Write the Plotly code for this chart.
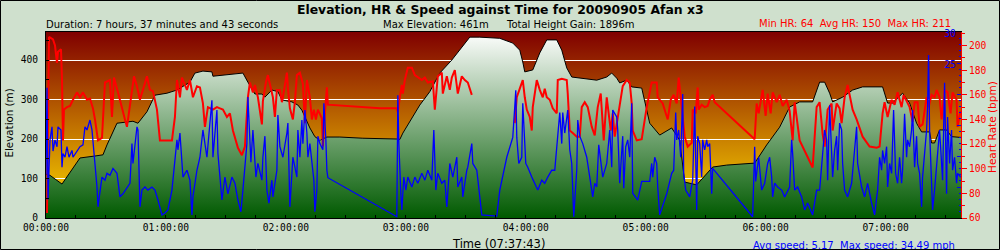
import base64
import pandas as pd
import plotly.graph_objects as go

# ---------------- data (time in minutes from start) ----------------
elev_t = [0, 2, 8, 17, 24.5, 28.5, 30.5, 35.5, 43.5, 46,
          50.5, 54.5, 60.5, 65.5, 72, 74.5, 78.5, 83, 83.5, 90.5,
          98.5, 101, 104.5, 108, 109.5, 113, 116, 118, 123, 126,
          128, 132, 134.5, 137, 140.5, 147, 158.5, 175.5, 177, 178.5,
          183, 187, 192, 197, 203, 207, 212, 217, 227, 233.5,
          237, 238.5, 239.5, 243.5, 247, 250.5, 255.5, 258, 260.5, 263,
          268.5, 275.5, 280.5, 283, 285.5, 287, 290.5, 293, 298, 302,
          307, 313, 317, 319.5, 325.5, 333.5, 340.5, 354.5, 360.5, 367,
          372, 377, 383.5, 387, 389.5, 392, 393.5, 398.5, 403.5, 408.5,
          418.5, 421, 423.5, 428.5, 432, 435.5, 438, 442, 443, 444.5,
          447, 450.5, 453, 457.7]
elev_m = [111, 108, 86, 152, 157, 160, 185, 240, 245, 240,
          269, 311, 316, 324, 344, 367, 372, 370, 359, 362,
          367, 344, 314, 314, 306, 324, 320, 299, 294, 286,
          273, 228, 206, 197, 205, 205, 202, 200, 199, 215,
          253, 286, 320, 367, 400, 425, 458, 458, 455, 443,
          425, 395, 370, 375, 418, 451, 451, 425, 380, 357,
          354, 349, 357, 367, 354, 342, 349, 332, 329, 240,
          210, 228, 197, 91, 84, 129, 134, 139, 185, 230,
          281, 294, 294, 344, 344, 316, 294, 306, 324, 332,
          332, 291, 291, 316, 291, 240, 218, 218, 190, 190,
          223, 223, 206, 204]

hr_t = [0.5, 1.5, 3.5, 4.5, 5.5, 6, 7.5, 8, 8.5, 9,
        10.5, 12, 13.5, 15.5, 17, 18.5, 20.5, 22, 23.5, 24.5,
        26, 28, 29.5, 32, 33, 34, 36, 38, 39.5, 40.5,
        42, 44, 45.5, 47, 50.5, 52, 53.5, 55.5, 57, 60.5,
        63, 64.5, 65.5, 67, 68, 70.5, 72, 73.5, 75.5, 77,
        78.5, 79.5, 81, 83.5, 85.5, 87, 88.5, 90.5, 92, 93.5,
        96, 98, 99.5, 101, 102, 103.5, 104.5, 106, 107, 108,
        108.5, 110, 111, 112.5, 113.5, 114.5, 115.5, 117, 118, 118.5,
        120.5, 121, 122, 123.5, 124.5, 125.5, 127, 128.5, 129.5, 130.5,
        132, 133, 134, 135, 136, 138, 138.5, 139.5, 140.5, 141,
        150.5, 158.5, 167, 175.5, 176, 177, 178, 178.5, 179.5, 181,
        183, 184.5, 186, 188, 189.5, 191, 193.5, 194.5, 196, 198,
        198.5, 200.5, 202, 203, 204.5, 206, 208, 209.5, 211, 213,
        224, 234.5, 235.5, 237, 238.5, 239.5, 240.5, 242, 243, 243.5,
        245.5, 247, 248.5, 249.5, 250.5, 252, 253.5, 255.5, 256, 258,
        260.5, 261, 262, 263.5, 265.5, 267, 268, 269.5, 271, 273,
        274.5, 276, 277.5, 279, 280.5, 282.5, 283.5, 284.5, 286.5, 288.5,
        290.5, 292, 293, 293.5, 295.5, 298, 300.5, 303, 305.5, 306,
        308.5, 311, 312.5, 314, 315.5, 316.5, 318, 319.5, 321, 323,
        323.5, 325, 326, 326.5, 328, 329.5, 331, 332, 333.5, 334.5,
        354.5, 355.5, 356.5, 358.5, 360, 361, 362.5, 363.5, 365.5, 367,
        368.5, 370.5, 372, 373.5, 374.5, 377, 383.5, 384.5, 385.5, 387,
        388.5, 389.5, 391, 393, 393.5, 395.5, 397, 398, 399.5, 401,
        402, 403.5, 405.5, 407, 408.5, 412, 415.5, 417, 418.5, 419.5,
        421, 423, 424.5, 426, 428, 429, 430.5, 432, 433.5, 434.5,
        436, 437, 438.5, 440.5, 441.5, 443, 444.5, 445.5, 447, 448,
        449.5, 451, 452.5, 453.5, 455.5, 456, 457.5]
hr_bpm = [64, 207, 205, 200, 186, 195, 197, 172, 123, 148,
          150, 151, 156, 162, 158, 162, 156, 157, 149, 140,
          123, 125, 170, 172, 142, 174, 162, 148, 140, 134,
          153, 175, 167, 156, 175, 164, 163, 148, 123, 123,
          123, 142, 172, 158, 174, 164, 172, 158, 167, 166,
          153, 134, 150, 148, 150, 149, 148, 142, 145, 131,
          117, 111, 118, 158, 170, 162, 168, 158, 147, 136,
          155, 170, 176, 166, 158, 142, 164, 164, 154, 158,
          178, 166, 149, 140, 154, 176, 178, 169, 137, 172,
          158, 140, 148, 140, 148, 141, 118, 145, 166, 152,
          151, 150, 149, 149, 146, 158, 168, 161, 172, 182,
          182, 176, 174, 172, 174, 170, 171, 148, 175, 178,
          161, 175, 164, 174, 180, 161, 175, 172, 170, 160,
          None, 137, 158, 165, 172, 158, 148, 142, 131, 150,
          172, 164, 158, 165, 158, 156, 149, 145, 172, 173,
          172, 161, 131, 129, 126, 126, 150, 154, 150, 134,
          127, 150, 161, 123, 158, 131, 145, 126, 145, 167,
          172, 170, 153, 131, 123, 124, 150, 170, 170, 158,
          153, 140, 156, 160, 153, 174, 150, 126, 118, 121,
          148, 145, 166, 148, 152, 150, 151, 156, 160, 154,
          124, 153, 145, 164, 143, 161, 145, 162, 154, 160,
          151, 156, 147, 123, 154, 123, 101, 131, 150, 154,
          128, 118, 148, 153, 131, 153, 149, 137, 158, 168,
          161, 148, 140, 133, 126, 118, 117, 118, 145, 154,
          142, 156, 152, 162, 150, 160, 155, 150, 138, 154,
          154, 134, 136, 158, 150, 160, 158, 164, 158, 140,
          164, 162, 145, 162, 156, 134, 147]

spd_t = [0, 0.5, 1, 2, 3, 3.5, 4.5, 5.5, 6, 7.5,
         8, 8.5, 9.5, 10.5, 11.5, 13, 13.5, 15.5, 17, 18.5,
         19.5, 20.5, 22, 23, 23.5, 24.5, 25.5, 26, 27, 28,
         29.5, 30.5, 32, 33.5, 35.5, 37, 38.5, 40.5, 42, 43,
         43.5, 45.5, 46, 47, 48, 49.5, 51, 53, 54.5, 56,
         58, 59.5, 61, 63, 64.5, 65.5, 66, 67, 68.5, 70.5,
         72, 73, 73.5, 75.5, 77, 78.5, 80.5, 83, 83.5, 85.5,
         86, 88, 89.5, 91, 93, 94.5, 96, 97.5, 98.5, 100.5,
         101, 102.5, 103.5, 105, 106, 108, 108.5, 109.5, 110.5, 111.5,
         113, 113.5, 115.5, 116, 117, 118.5, 120.5, 121, 122, 123,
         123.5, 125.5, 126, 127, 128, 128.5, 129.5, 130.5, 131, 132,
         133, 134, 134.5, 135.5, 136, 137, 138.5, 139, 140, 140.5,
         141, 175.5, 176, 176.5, 177.5, 178, 179, 180, 181, 183,
         184.5, 186, 188, 189.5, 191, 193, 194, 195, 196, 198,
         199.5, 200.5, 202, 203.5, 205.5, 206, 208, 208.5, 210.5, 211,
         213, 213.5, 215.5, 217, 218, 225.5, 227, 230.5, 233.5, 234.5,
         235, 235.5, 236.5, 238, 238.5, 240, 241, 243, 244.5, 246,
         248, 249.5, 251, 253, 254.5, 256, 257, 258, 258.5, 259.5,
         261, 262, 263, 264, 265.5, 266, 267, 268.5, 270.5, 272,
         273.5, 274.5, 275.5, 276.5, 277.5, 278.5, 280.5, 282, 283, 283.5,
         285.5, 286, 287, 288.5, 289, 290, 291, 292, 293, 293.5,
         296, 298, 302, 303, 303.5, 304.5, 305.5, 306, 307, 310.5,
         313, 314, 315, 315.5, 316.5, 317.5, 318.5, 319, 320, 322,
         323.5, 324.5, 325.5, 326, 327, 328, 328.5, 329.5, 330.5, 331,
         332, 333, 333.5, 353.5, 354.5, 355, 355.5, 356.5, 358, 359.5,
         361, 362, 363, 363.5, 364.5, 366, 368, 369.5, 372, 373,
         373.5, 374.5, 376, 378, 379.5, 381, 383.5, 385.5, 387, 388.5,
         389.5, 390.5, 391, 392, 393, 393.5, 394.5, 395.5, 396, 397,
         398, 398.5, 399.5, 401, 403, 404.5, 405.5, 406, 408, 409.5,
         411, 413, 414.5, 416, 417, 418, 418.5, 419.5, 420.5, 421,
         422, 423, 424, 425, 426, 427, 428, 428.5, 429.5, 430.5,
         431, 432, 433, 433.5, 434.5, 435.5, 436, 437, 438, 438.5,
         439.5, 440.5, 441, 441.5, 442, 443, 443.5, 444.5, 445.5, 446,
         447, 448, 448.5, 449.5, 450.5, 451, 452, 453, 453.5, 454.5,
         455.5, 456, 457.5]
spd_mph = [7, 21, 3, 12.6, 14.7, 10.8, 12.6, 11.5, 14.7, 14.2,
           8.2, 10.4, 9.8, 11.5, 9.8, 10.9, 9.8, 10.9, 11.5, 11.8,
           14.7, 14.2, 15.8, 14.2, 12.6, 9.4, 5, 1.8, 3.9, 6.6,
           6.1, 7.2, 6.9, 8, 7.2, 3.4, 3.9, 5, 5.6, 12,
           8.8, 14.7, 14.2, 1.8, 4.5, 5, 4.5, 5, 4.5, 2.9,
           0.5, 0.8, 1.3, 4.5, 9.8, 12.6, 11, 13.7, 6.6, 7.7,
           6.1, 0.5, 3.4, 7.7, 9.8, 14.2, 9.8, 19, 9.8, 17.4,
           10.4, 2.9, 6.6, 3.9, 6.6, 5.6, 2.9, 1, 4.5, 12,
           19.5, 9, 14.2, 6.6, 8.8, 6.1, 9.8, 13.2, 4.5, 2.4,
           6.1, 3.4, 7.7, 16.6, 11.5, 9.8, 13.7, 15.3, 1.8, 6.1,
           9.8, 6.6, 14.2, 9.8, 15.8, 12, 17.4, 13.7, 9.8, 12,
           8.8, 6.1, 1, 4.5, 13.2, 12, 11, 18.5, 12.6, 7.7,
           6.5, 0.2, 19.8, 12, 3.9, 1.3, 6.6, 4.5, 6.6, 5,
           6.6, 5.6, 7.2, 6.1, 7.7, 6.1, 14.2, 4.5, 7.2, 5.6,
           6.1, 1.8, 8.8, 6.6, 9.8, 5, 6.6, 3.4, 7.7, 8.2,
           12, 8.8, 7.7, 3.9, 0.5, 0.3, 4.5, 9.8, 13, 18,
           20.6, 13, 8.8, 9.8, 18.5, 8.8, 8.2, 6.6, 5.6, 4.5,
           6.1, 5.6, 6.6, 7.7, 7.7, 14.2, 17, 12, 17, 13.7,
           17.4, 11, 8.8, 0.2, 7.7, 15.8, 13.2, 12, 9.8, 6.6,
           3.4, 5.6, 5, 11.8, 9.4, 6.6, 8.8, 14.2, 8.2, 17.4,
           16.3, 14.2, 5.6, 13.2, 4.8, 11.5, 12.6, 9.8, 18.5, 4,
           2.9, 5.9, 5.9, 8.8, 6.6, 9.8, 8.8, 5, 0.5, 3.9,
           7.2, 7.7, 17, 12.6, 14.2, 9.8, 20, 7.2, 4.5, 3.4,
           6.1, 18, 1.3, 13.2, 12, 6.6, 12.6, 11, 12.6, 11.5,
           12, 3.9, 8, 0.2, 11.5, 5.9, 7.2, 9.8, 4.5, 5.6,
           8.8, 9.8, 6.6, 3.4, 5.6, 5, 4.5, 3.4, 5, 12.6,
           10.4, 4.5, 5, 3.4, 1.3, 2.4, 0.5, 4.5, 4.5, 9.8,
           14.2, 12.6, 6.1, 18.2, 11.5, 6.6, 10.9, 13.2, 7.7, 15.3,
           14.2, 8.8, 4.5, 3.4, 5.6, 11.5, 14.7, 8.8, 5, 3.4,
           5.6, 2.4, 0.5, 4.5, 9.8, 7.7, 10.9, 8.8, 11.5, 5,
           8.8, 7.2, 17.4, 7.2, 5.6, 9.8, 5.6, 7.7, 16.8, 9.8,
           12.6, 11.5, 14.2, 17.4, 8.2, 13.2, 8.8, 7.2, 1.8, 6.6,
           9.8, 14.2, 18, 26.3, 14.2, 4.5, 1.3, 4.5, 8.8, 11.5,
           14.2, 8.8, 6.1, 21.8, 3.9, 16.3, 8.8, 14.2, 7.7, 9.8,
           5.6, 7.2, 6.6]

x_tick_format = "%H:%M:%S"
speed_ticks = [0, 5, 10, 15, 20, 25, 30]
speed_tick_text = ["", "", "", "", "", "25", "30"]

TITLE = "Elevation, HR & Speed against Time for 20090905 Afan x3"
DURATION = "Duration: 7 hours, 37 minutes and 43 seconds"
MAX_ELEV = "Max Elevation: 461m"
HEIGHT_GAIN = "Total Height Gain: 1896m"
HR_STATS = "Min HR: 64  Avg HR: 150  Max HR: 211"
SPEED_STATS = "Avg speed: 5.17  Max speed: 34.49 mph"
X_TITLE = "Time (07:37:43)"

# ---------------- layout constants ----------------
W, H = 1000, 250
ML, MR, MT, MB = 46, 39, 32, 32
PW, PH = W - ML - MR, H - MT - MB
ELEV_TOP = 471
HR_RANGE = [60, 211]
SPD_RANGE = [0, 30]
BG = "#cfe0cd"
MONO = "DejaVu Sans Mono"
SANS = "DejaVu Sans"

t0 = pd.Timestamp("2009-09-05 00:00:00")
t_end = t0 + pd.Timedelta(seconds=7 * 3600 + 37 * 60 + 43)


def to_time(mins):
    return [t0 + pd.Timedelta(minutes=m) for m in mins]


def px(x):
    return (x - ML) / PW


def py(y):
    return 1 - (y - MT) / PH


fig = go.Figure()
fig.add_trace(go.Scatter(
    x=to_time(elev_t), y=elev_m, mode="lines", yaxis="y",
    line=dict(color="black", width=1), fill="tozeroy",
    fillgradient=dict(type="vertical", colorscale=[[0, "#005a00"], [1, "#ffffff"]],
                      start=0, stop=ELEV_TOP),
    hoverinfo="skip"))
fig.add_trace(go.Scatter(
    x=to_time(hr_t), y=hr_bpm, mode="lines", yaxis="y2", connectgaps=False,
    line=dict(color="#ff0000", width=2)))
fig.add_trace(go.Scatter(
    x=to_time(spd_t), y=spd_mph, mode="lines", yaxis="y3",
    line=dict(color="#0000ff", width=1.3)))

svg = ('<svg xmlns="http://www.w3.org/2000/svg" width="10" height="100" viewBox="0 0 10 100" '
       'preserveAspectRatio="none"><defs><linearGradient id="g" x1="0" y1="0" x2="0" y2="1">'
       '<stop offset="0" stop-color="#800000"/><stop offset="1" stop-color="#ffdf00"/>'
       '</linearGradient></defs><rect x="0" y="0" width="10" height="100" fill="url(#g)"/></svg>')
svg_uri = "data:image/svg+xml;base64," + base64.b64encode(svg.encode()).decode()

fig.update_layout(
    width=W, height=H, margin=dict(l=ML, r=MR, t=MT, b=MB, pad=0),
    paper_bgcolor=BG, plot_bgcolor="#c06000", showlegend=False,
    images=[dict(source=svg_uri, xref="paper", yref="paper", x=0, y=1, sizex=1, sizey=1,
                 xanchor="left", yanchor="top", sizing="stretch", layer="below")],
    xaxis=dict(type="date", range=[t0, t_end], tickformat=x_tick_format, tick0=t0,
               dtick=3600000, ticks="inside", ticklen=3, tickcolor="black",
               showgrid=False, zeroline=False, showline=True, linecolor="black",
               linewidth=1, mirror=True,
               tickfont=dict(family=MONO, size=9.6, color="black"),
               minor=dict(dtick=900000, ticks="inside", ticklen=3, tickcolor="black",
                          showgrid=False)),
    yaxis=dict(range=[0, ELEV_TOP], tick0=0, dtick=100, ticks="inside", ticklen=3,
               tickcolor="black", showgrid=True, gridcolor="white", gridwidth=1,
               zeroline=False, showline=True, linecolor="black", linewidth=1,
               ticklabelstandoff=5,
               tickfont=dict(family=MONO, size=9.6, color="black"),
               minor=dict(dtick=50, ticks="inside", ticklen=3, tickcolor="black",
                          showgrid=False)),
    yaxis2=dict(overlaying="y", side="right", anchor="x", range=HR_RANGE, tick0=60,
                dtick=20, ticks="outside", ticklen=5, tickcolor="red", showgrid=False,
                zeroline=False, showline=True, linecolor="red", linewidth=1,
                tickfont=dict(family=MONO, size=9.6, color="red"),
                minor=dict(dtick=10, ticks="outside", ticklen=3, tickcolor="red")),
    yaxis3=dict(overlaying="y", side="right", anchor="x", range=SPD_RANGE,
                tickmode="array", tickvals=speed_ticks, ticktext=speed_tick_text,
                ticks="inside", ticklen=4, tickcolor="blue", ticklabelposition="inside",
                ticklabeloverflow="allow", ticklabelshift=2,
                showgrid=False, zeroline=False, showline=False,
                tickfont=dict(family=MONO, size=9.6, color="blue"),
                minor=dict(dtick=1, ticks="inside", ticklen=2, tickcolor="blue")),
)

ann = [
    dict(text=TITLE, x=px(500), y=py(9), xanchor="center", yanchor="middle",
         font=dict(family=SANS, size=12.4, color="black", weight="bold")),
    dict(text=DURATION, x=px(44.5), y=py(24.5), xanchor="left", yanchor="middle",
         font=dict(family=SANS, size=10, color="black")),
    dict(text=MAX_ELEV, x=px(382), y=py(24.5), xanchor="left", yanchor="middle",
         font=dict(family=SANS, size=10, color="black")),
    dict(text=HEIGHT_GAIN, x=px(505), y=py(24.5), xanchor="left", yanchor="middle",
         font=dict(family=SANS, size=10, color="black")),
    dict(text=HR_STATS, x=px(952), y=py(23.5), xanchor="right", yanchor="middle",
         font=dict(family=SANS, size=10, color="red")),
    dict(text="Elevation (m)", x=px(8.5), y=py(123), xanchor="center", yanchor="middle",
         textangle=-90, font=dict(family=SANS, size=10.3, color="black")),
    dict(text="Heart Rate (bpm)", x=px(992), y=py(127), xanchor="center", yanchor="middle",
         textangle=-90, font=dict(family=SANS, size=10.5, color="red")),
    dict(text=X_TITLE, x=px(498), y=py(243.5), xanchor="center", yanchor="middle",
         font=dict(family=SANS, size=11.5, color="black")),
    dict(text=SPEED_STATS, x=px(956), y=py(245.5), xanchor="right", yanchor="middle",
         font=dict(family=SANS, size=10, color="blue")),
]
for a in ann:
    a.update(xref="paper", yref="paper", showarrow=False, borderpad=0)
fig.update_layout(annotations=ann)

fig.add_shape(type="rect", xref="paper", yref="paper",
              x0=px(0.5), x1=px(999.5), y0=py(249.5), y1=py(0.5),
              line=dict(color="black", width=1), fillcolor="rgba(0,0,0,0)", layer="above")

fig.write_html("out.html")
